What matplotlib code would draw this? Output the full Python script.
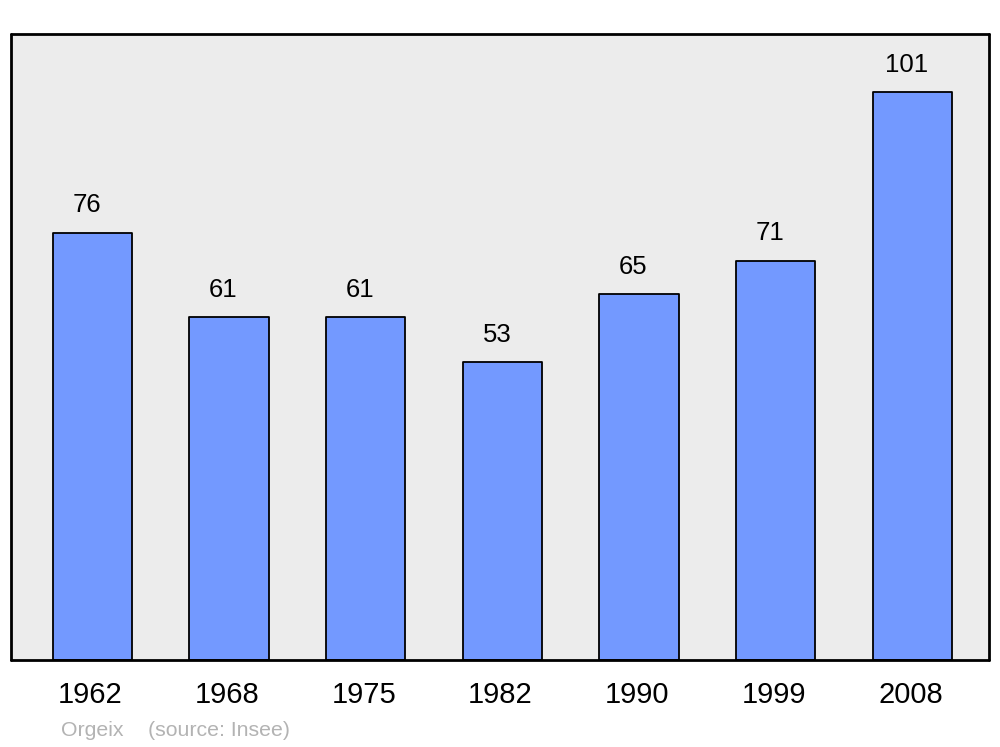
import matplotlib.pyplot as plt
from matplotlib.transforms import ScaledTranslation

plt.rcParams['font.family'] = ['Liberation Sans', 'DejaVu Sans']

years = ['1962', '1968', '1975', '1982', '1990', '1999', '2008']
population = [76, 61, 61, 53, 65, 71, 101]
commune = 'Orgeix'
source = '(source: Insee)'

fig = plt.figure(figsize=(10, 7.47), dpi=100)
ax = fig.add_axes([0.011, 1 - 660 / 747, 0.978, 626 / 747])
ax.set_facecolor('#ececec')

x = range(len(years))
bars = ax.bar(x, population, width=0.58, color='#7399ff', edgecolor='black',
              linewidth=1.3, joinstyle='round')

# valeurs au-dessus des barres
for xi, v in zip(x, population):
    ax.annotate(str(v), (xi, v), textcoords='offset points', xytext=(-4, 11),
                ha='center', va='bottom', fontsize=18.5)

ax.set_xlim(-0.595, 6.56)
ax.set_ylim(0, 111.3)
ax.set_yticks([])
ax.set_xticks(list(x))
ax.set_xticklabels(years, fontsize=21)
ax.tick_params(axis='x', length=0, pad=15)
# petit décalage à gauche des étiquettes
decal = ScaledTranslation(-2 / 100, 0, fig.dpi_scale_trans)
for lab in ax.get_xticklabels():
    lab.set_transform(lab.get_transform() + decal)
for s in ax.spines.values():
    s.set_linewidth(2)
    s.set_capstyle('round')

fig.text(0.061, 1 - 730 / 747, commune, color='#b3b3b3', fontsize=15.3, va='center')
fig.text(0.148, 1 - 730 / 747, source, color='#b3b3b3', fontsize=15.3, va='center')

fig.savefig('out.png', dpi=100)
